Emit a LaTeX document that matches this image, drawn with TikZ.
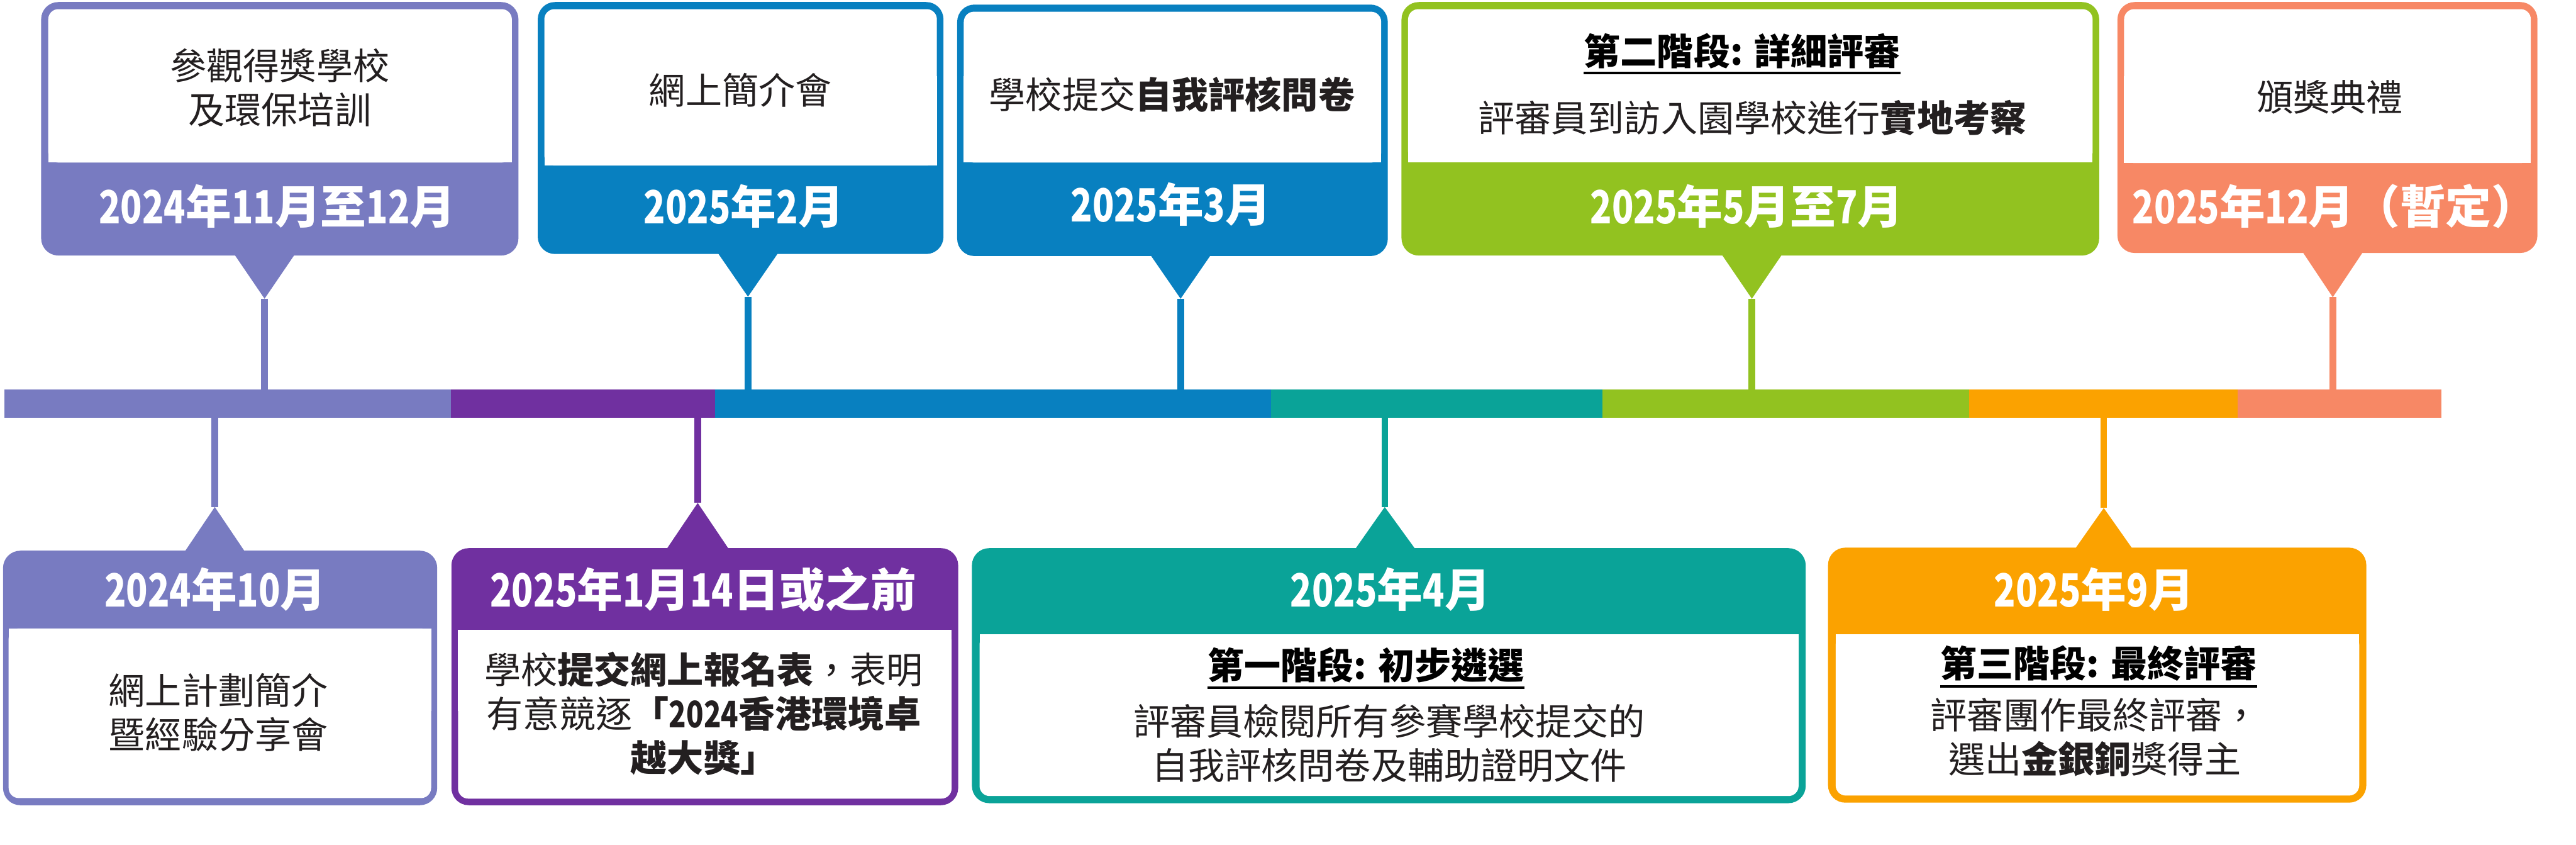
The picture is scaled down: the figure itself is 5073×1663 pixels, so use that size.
\documentclass[tikz,border=0pt]{standalone}
\usepackage{fontspec}
\setmainfont{Noto Sans CJK TC}
\newfontfamily\digfont{Noto Sans CJK TC}[FakeStretch=0.78]
\definecolor{lav}{HTML}{787BC1}
\definecolor{pur}{HTML}{7030A0}
\definecolor{blu}{HTML}{0880C0}
\definecolor{tea}{HTML}{0AA398}
\definecolor{gre}{HTML}{92C220}
\definecolor{ora}{HTML}{FBA200}
\definecolor{sal}{HTML}{F78865}
\definecolor{txt}{HTML}{231F20}
\newcommand\dg[1]{{\digfont #1}}
\newcommand\bodysize{\fontsize{72}{87}\selectfont}
\newcommand\datesize{\fontsize{90}{100}\selectfont}
\begin{document}
\begin{tikzpicture}[x=1pt,y=-1pt,
  body/.style={font=\bodysize, text=txt, align=center, inner sep=0pt},
  head/.style={font=\bodysize\bfseries, text=black, inner sep=0pt},
  datelbl/.style={font=\datesize\bfseries, text=white, inner sep=0pt, anchor=base},
  seg/.style={inner sep=0pt, minimum height=55pt, anchor=west},
  stem/.style={line width=13pt},
  ulin/.style={line width=5pt, black},
  outer/.style={rounded corners=34pt},
  inner/.style={white, rounded corners=20pt},
]
\useasboundingbox (0,0) rectangle (5073,1663);

% ---- timeline segments ----
\node[seg, fill=lav, minimum width=881pt] (s1) at (8,794.5) {};
\node[seg, fill=pur, minimum width=521pt] (s2) at (888,794.5) {};
\node[seg, fill=blu, minimum width=1096pt] (s3) at (1408,794.5) {};
\node[seg, fill=tea, minimum width=654pt] (s4) at (2503,794.5) {};
\node[seg, fill=gre, minimum width=722pt] (s5) at (3156,794.5) {};
\node[seg, fill=ora, minimum width=531pt] (s6) at (3877,794.5) {};
\node[seg, fill=sal, minimum width=401pt] (s7) at (4407,794.5) {};

% ---- tail tips ----
\coordinate (t1tip) at (521,588);
\coordinate (t2tip) at (1473,584);
\coordinate (t3tip) at (2325,588);
\coordinate (t4tip) at (3450,588);
\coordinate (t5tip) at (4594,585);
\coordinate (b1tip) at (423,998);
\coordinate (b2tip) at (1374,990);
\coordinate (b3tip) at (2727,998);
\coordinate (b4tip) at (4143,1000);

% ---- stems ----
\draw[stem, lav] (t1tip) -- (t1tip |- s1.north);
\draw[stem, blu] (t2tip) -- (t2tip |- s3.north);
\draw[stem, blu] (t3tip) -- (t3tip |- s3.north);
\draw[stem, gre] (t4tip) -- (t4tip |- s5.north);
\draw[stem, sal] (t5tip) -- (t5tip |- s7.north);
\draw[stem, lav] (b1tip |- s1.south) -- (b1tip);
\draw[stem, pur] (b2tip |- s2.south) -- (b2tip);
\draw[stem, tea] (b3tip |- s4.south) -- (b3tip);
\draw[stem, ora] (b4tip |- s6.south) -- (b4tip);

% ================= TOP BOXES =================
% T1
\fill[lav, outer] (81,4) rectangle (1021,503);
\fill[inner] (95,18) rectangle (1008,320);
\fill[white] (95,150) rectangle (1008,320);
\fill[lav] (461,500) -- (581,500) -- (t1tip) -- cycle;
\node[body] (t1txt) at (551,172.5) {參觀得獎學校\\及環保培訓};
\node[datelbl] (t1date) at (546,440) {\dg{2024}年\dg{11}月至\dg{12}月};

% T2
\fill[blu, outer] (1059,4) rectangle (1858,500);
\fill[inner] (1072,18) rectangle (1845,326);
\fill[white] (1072,150) rectangle (1845,326);
\fill[blu] (1413,497) -- (1533,497) -- (t2tip) -- cycle;
\node[body] (t2txt) at (1458,178) {網上簡介會};
\node[datelbl] (t2date) at (1465,440) {\dg{2025}年\dg{2}月};

% T3
\fill[blu, outer] (1885,9) rectangle (2733,504);
\fill[inner] (1898,23) rectangle (2720,320);
\fill[white] (1898,150) rectangle (2720,320);
\fill[blu] (2265,501) -- (2385,501) -- (t3tip) -- cycle;
\node[body] (t3txt) at (2308,186) {學校提交{\bfseries 自我評核問卷}};
\node[datelbl] (t3date) at (2306,436) {\dg{2025}年\dg{3}月};

% T4
\fill[gre, outer] (2760,4) rectangle (4134,503);
\fill[inner] (2773,18) rectangle (4121,319);
\fill[white] (2773,150) rectangle (4121,319);
\fill[gre] (3390,500) -- (3510,500) -- (t4tip) -- cycle;
\node[head] (t4head) at (3431,100) {第二階段: 詳細評審};
\draw[ulin] (t4head.west |- 0,144) -- (t4head.east |- 0,144);
\node[body] (t4txt) at (3451,232) {評審員到訪入園學校進行{\bfseries 實地考察}};
\node[datelbl] (t4date) at (3440,440) {\dg{2025}年\dg{5}月至\dg{7}月};

% T5
\fill[sal, outer] (4170,4) rectangle (4997,498);
\fill[inner] (4183,18) rectangle (4984,321);
\fill[white] (4183,150) rectangle (4984,321);
\fill[sal] (4534,495) -- (4654,495) -- (t5tip) -- cycle;
\node[body] (t5txt) at (4588,191) {頒獎典禮};
\node[datelbl] (t5date) at (4598,440) {\dg{2025}年\dg{12}月（暫定）};

% ================= BOTTOM BOXES =================
% B1
\fill[lav, outer] (6,1084) rectangle (861,1585);
\fill[inner] (17,1237) rectangle (849,1571);
\fill[white] (17,1237) rectangle (849,1400);
\fill[lav] (363,1087) -- (483,1087) -- (b1tip) -- cycle;
\node[datelbl] (b1date) at (424,1195) {\dg{2024}年\dg{10}月};
\node[body] (b1txt) at (430,1402) {網上計劃簡介\\暨經驗分享會};

% B2
\fill[pur, outer] (889,1079) rectangle (1887,1585);
\fill[inner] (902,1240) rectangle (1874,1572);
\fill[white] (902,1240) rectangle (1874,1400);
\fill[pur] (1312,1082) -- (1436,1082) -- (b2tip) -- cycle;
\node[datelbl] (b2date) at (1385,1195) {\dg{2025}年\dg{1}月\dg{14}日或之前};
\node[body] (b2txt) at (1386,1405) {學校{\bfseries 提交網上報名表}，表明\\有意競逐{\bfseries 「\dg{2024}香港環境卓}\\{\bfseries 越大獎」}};

% B3
\fill[tea, outer] (1914,1079) rectangle (3556,1581);
\fill[inner] (1929,1249) rectangle (3542,1567);
\fill[white] (1929,1249) rectangle (3542,1400);
\fill[tea] (2668,1082) -- (2788,1082) -- (b3tip) -- cycle;
\node[datelbl] (b3date) at (2738,1195) {\dg{2025}年\dg{4}月};
\node[head] (b3head) at (2690,1309) {第一階段: 初步遴選};
\draw[ulin] (b3head.west |- 0,1354) -- (b3head.east |- 0,1354);
\node[body] (b3txt) at (2736,1463) {評審員檢閱所有參賽學校提交的\\自我評核問卷及輔助證明文件};

% B4
\fill[ora, outer] (3600,1078) rectangle (4660,1580);
\fill[inner] (3615,1249) rectangle (4646,1566);
\fill[white] (3615,1249) rectangle (4646,1400);
\fill[ora] (4086,1081) -- (4200,1081) -- (b4tip) -- cycle;
\node[datelbl] (b4date) at (4124,1195) {\dg{2025}年\dg{9}月};
\node[head] (b4head) at (4133,1306) {第三階段: 最終評審};
\draw[ulin] (b4head.west |- 0,1351) -- (b4head.east |- 0,1351);
\node[body] (b4txt) at (4125,1451) {評審團作最終評審，\\選出{\bfseries 金銀銅}獎得主};
\end{tikzpicture}
\end{document}
